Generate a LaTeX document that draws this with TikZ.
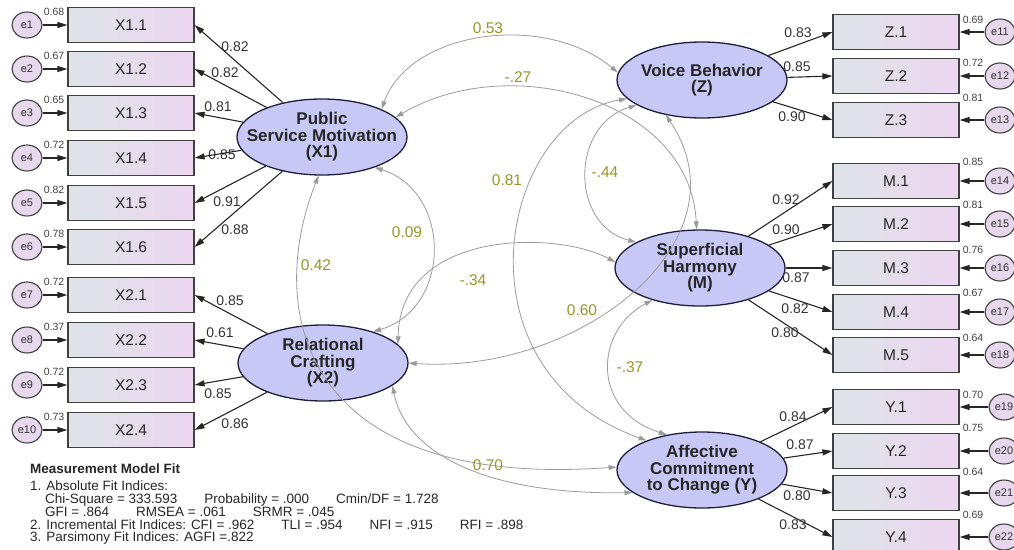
\documentclass[tikz,border=0pt]{standalone}
\usepackage{fontspec}
\setmainfont{Liberation Sans}
\usetikzlibrary{shapes,arrows.meta}
\definecolor{latentfill}{RGB}{200,200,246}
\definecolor{latentline}{RGB}{30,30,60}
\definecolor{boxleft}{RGB}{222,228,232}
\definecolor{boxright}{RGB}{236,214,240}
\definecolor{errfill}{RGB}{232,216,238}
\definecolor{covline}{RGB}{155,155,155}
\definecolor{covtext}{RGB}{150,150,40}

\begin{document}
\begin{tikzpicture}[x=1pt,y=-1pt]
\tikzstyle{every node}=[inner sep=0pt]
\tikzstyle{latent}=[ellipse,draw=latentline,line width=1.3pt,fill=latentfill,minimum width=170pt,minimum height=76pt]
\tikzstyle{lattext}=[align=center,font=\bfseries\fontsize{17}{16.5}\selectfont,text=black!85]
\tikzstyle{indicator}=[rectangle,draw=black!75,line width=1.2pt,left color=boxleft,right color=boxright,minimum width=126pt,minimum height=35pt,font=\fontsize{15.5}{17}\selectfont,text=black!85]
\tikzstyle{error}=[ellipse,draw=black!75,line width=1.1pt,fill=errfill,minimum width=30pt,minimum height=26pt,font=\fontsize{11}{12}\selectfont,text=black!80]
\tikzstyle{varlab}=[font=\fontsize{10.5}{12}\selectfont,text=black!75]
\tikzstyle{loadlab}=[font=\fontsize{14}{15}\selectfont,text=black!80]
\tikzstyle{covlab}=[font=\fontsize{15.5}{17}\selectfont,text=covtext]
\tikzstyle{fittext}=[align=left,font=\fontsize{13.5}{12.8}\selectfont,text=black!85]
\tikzstyle{load}=[-{Triangle[length=10pt,width=6pt]},line width=1.1pt,black!85]
\tikzstyle{cov}=[{Triangle[length=8pt,width=5pt]}-{Triangle[length=8pt,width=5pt]},line width=0.8pt,covline]
\useasboundingbox (0,0) rectangle (1014,549);

\node[latent] (X1) at (322,137) {};
\node[lattext] (X1t) at (X1) {Public\\Service Motivation\\(X1)};
\node[latent] (X2) at (323,363) {};
\node[lattext] (X2t) at (X2) {Relational\\Crafting\\(X2)};
\node[latent] (Z) at (702,80) {};
\node[lattext] (Zt) at (Z) {Voice Behavior\\(Z)};
\node[latent] (M) at (700,268) {};
\node[lattext] (Mt) at (M) {Superficial\\Harmony\\(M)};
\node[latent] (Y) at (702,470) {};
\node[lattext] (Yt) at (Y) {Affective\\Commitment\\to Change (Y)};

\foreach \nm/\txt/\yy/\var/\ld/\lx/\ly/\lat/\e in {
  x11/X1.1/25/0.68/0.82/235/47/X1/1, x12/X1.2/69/0.67/0.82/225/73/X1/2,
  x13/X1.3/113/0.65/0.81/218/107/X1/3, x14/X1.4/158/0.72/0.85/222/155/X1/4,
  x15/X1.5/203/0.82/0.91/227/202/X1/5, x16/X1.6/247/0.78/0.88/235/230/X1/6,
  x21/X2.1/295/0.72/0.85/230/301/X2/7, x22/X2.2/340/0.37/0.61/220/333/X2/8,
  x23/X2.3/385/0.72/0.85/218/394/X2/9, x24/X2.4/430/0.73/0.86/235/424/X2/10}{
  \node[indicator] (\nm) at (131,\yy) {\txt};
  \node[error] (e\e) at (27,\yy) {e\e};
  \node[varlab] (v\e) at (54,\yy-13) {\var};
  \node[loadlab] (l\e) at (\lx,\ly) {\ld};
  \draw[load] (e\e) -- (\nm.west);
  \draw[load] (\lat) -- (\nm.east);
}

\foreach \nm/\txt/\yy/\var/\vy/\ld/\lx/\ly/\lat/\e/\ex in {
  z1/Z.1/32/0.69/20/0.83/798/33/Z/11/1000, z2/Z.2/76/0.72/63/0.85/797/67/Z/12/1000,
  z3/Z.3/120/0.81/98/0.90/792/117/Z/13/1000, m1/M.1/181/0.85/162/0.92/786/200/M/14/1000,
  m2/M.2/224/0.81/205/0.90/786/230/M/15/1000, m3/M.3/268/0.76/250/0.87/796/278/M/16/1000,
  m4/M.4/312/0.67/293/0.82/795/309/M/17/1000, m5/M.5/355/0.64/338/0.80/785/333/M/18/1000,
  y1/Y.1/407/0.70/395/0.84/793/417/Y/19/1004, y2/Y.2/451/0.75/428/0.87/800/445/Y/20/1004,
  y3/Y.3/493/0.64/472/0.80/797/496/Y/21/1004, y4/Y.4/537/0.69/515/0.83/793/525/Y/22/1004}{
  \node[indicator] (\nm) at (896,\yy) {\txt};
  \node[error] (e\e) at (\ex,\yy) {e\e};
  \node[varlab] (v\e) at (973,\vy) {\var};
  \node[loadlab] (l\e) at (\lx,\ly) {\ld};
  \draw[load] (e\e) -- (\nm.east);
  \draw[load] (\lat) -- (\nm.west);
}

\draw[cov] (X1.25) .. controls (410,30) and (545,12) .. (Z.175);
\draw[cov] (X1.15) .. controls (510,50) and (690,100) .. (M.95);
\draw[cov] (Z.-166) .. controls (500,120) and (450,370) .. (Y.152);
\draw[cov] (Z.-159) .. controls (570,125) and (570,225) .. (M.158);
\draw[cov] (X1.-30) .. controls (452,192) and (452,308) .. (X2.32);
\draw[cov] (X1.-95) .. controls (265,310) and (300,490) .. (Y.178);
\draw[cov] (X2.-18) .. controls (405,450) and (480,495) .. (Y.-162);
\draw[cov] (X2.14) .. controls (400,230) and (555,230) .. (M.176);
\draw[cov] (X2.0) .. controls (580,375) and (750,240) .. (Z.-136);
\draw[cov] (M.-146) .. controls (595,330) and (590,410) .. (Y.135);

\node[covlab] (c1) at (488,28) {0.53};
\node[covlab] (c2) at (518,77) {-.27};
\node[covlab] (c3) at (507,180) {0.81};
\node[covlab] (c4) at (605,172) {-.44};
\node[covlab] (c5) at (407,232) {0.09};
\node[covlab] (c6) at (316,265) {0.42};
\node[covlab] (c7) at (473,280) {-.34};
\node[covlab] (c8) at (582,310) {0.60};
\node[covlab] (c9) at (630,367) {-.37};
\node[covlab] (c10) at (488,465) {0.70};

\node[fittext,anchor=north west] (fit) at (30,464) {\textbf{Measurement Model Fit}\\[4pt]
1. Absolute Fit Indices:\\
\hspace*{1.1em}Chi-Square = 333.593\hspace{2em}Probability = .000\hspace{2em}Cmin/DF = 1.728\\
\hspace*{1.1em}GFI = .864\hspace{2em}RMSEA = .061\hspace{2em}SRMR = .045\\
2. Incremental Fit Indices: CFI = .962\hspace{2em}TLI = .954\hspace{2em}NFI = .915\hspace{2em}RFI = .898\\
3. Parsimony Fit Indices: AGFI =.822};
\end{tikzpicture}
\end{document}
